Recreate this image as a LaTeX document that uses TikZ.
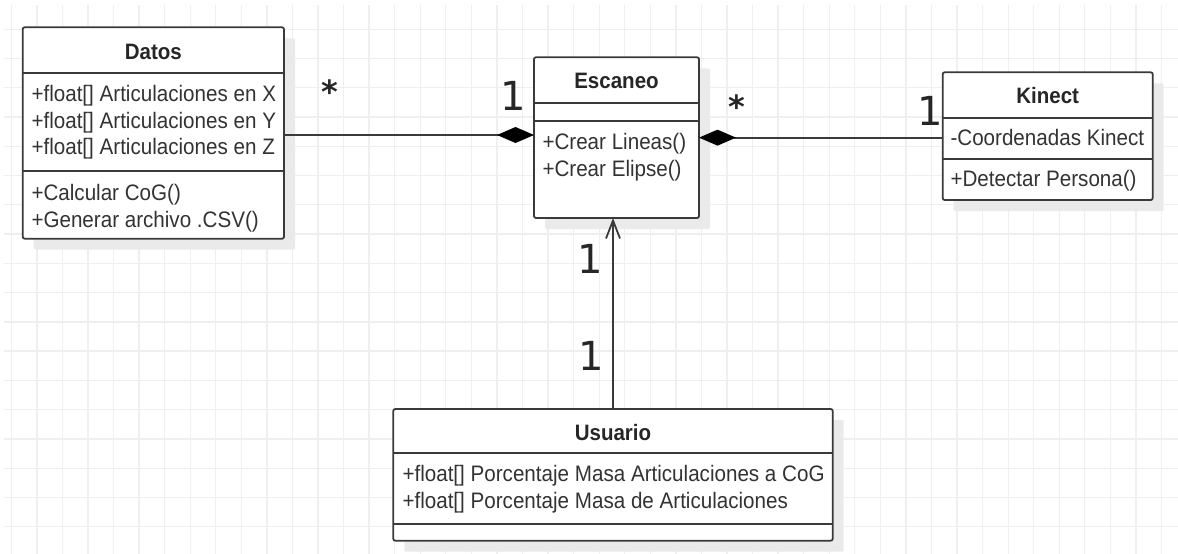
\documentclass[tikz,border=0pt]{standalone}
\usepackage{fontspec}
\setmainfont[FakeStretch=0.92]{Liberation Sans}
\newfontfamily\multfont{DejaVu Sans}
\usetikzlibrary{arrows.meta,shadows}
\definecolor{ink}{HTML}{333333}
\definecolor{edge}{HTML}{3A3A3A}
\definecolor{gridc}{HTML}{EFEFEF}
\definecolor{shade}{HTML}{EAEAEA}

\begin{document}
\begin{tikzpicture}[x=1pt,y=-1pt,
  every node/.style={inner sep=0pt, outer sep=0pt},
  classbox/.style={draw=edge, line width=1.8pt, fill=white, rounded corners=2pt,
    anchor=north west,
    drop shadow={shadow xshift=11pt, shadow yshift=-11pt, fill=shade, opacity=1}},
  sepline/.style={draw=edge, line width=1.8pt},
  title/.style={font=\fontsize{22.3}{26}\selectfont\bfseries, text=black!85, anchor=base},
  member/.style={font=\fontsize{22.4}{26}\selectfont, text=ink, anchor=base west},
  mult/.style={font=\multfont\fontsize{40}{48}\selectfont, text=black!85, anchor=base},
  star/.style={font=\multfont\bfseries\fontsize{32}{40}\selectfont, text=black!85, anchor=center},
  comp/.style={draw=edge, line width=1.8pt, {Diamond[length=37pt,width=16pt,color=black,fill=black]}-},
  nav/.style={draw=edge, line width=1.8pt, -{Straight Barb[length=18pt,width=14pt]}},
  gridline/.style={draw=gridc, line width=1.3pt}
]
% canvas and background grid
\fill[white] (0,0) rectangle (1178,554);
\useasboundingbox (0,0) rectangle (1178,554);
\foreach \i in {0,...,45} \draw[gridline] ({11.3+25.56*\i},5) -- ({11.3+25.56*\i},554);
\foreach \j in {1,...,18} \draw[gridline] (4,{29.26*\j}) -- (1178,{29.26*\j});

% class Datos
\node[classbox, minimum width=261.3pt, minimum height=211.4pt] (datos) at (22.7,27.3) {};
\draw[sepline] (22.7,72.7) -- (284,72.7);
\draw[sepline] (22.7,170.7) -- (284,170.7);
\node[title] (datosT) at (153.3,59) {Datos};
\node[member] (datosA1) at (31.5,101.7) {+float[] Articulaciones en X};
\node[member] (datosA2) at (31.5,128.3) {+float[] Articulaciones en Y};
\node[member] (datosA3) at (31.5,154.6) {+float[] Articulaciones en Z};
\node[member] (datosM1) at (31.5,200) {+Calcular CoG()};
\node[member] (datosM2) at (31.5,227.3) {+Generar archivo .CSV()};

% class Escaneo
\node[classbox, minimum width=165pt, minimum height=160.7pt] (escaneo) at (534,57.3) {};
\draw[sepline] (534,102.7) -- (699,102.7);
\draw[sepline] (534,121) -- (699,121);
\node[title] (escaneoT) at (616.5,88.3) {Escaneo};
\node[member] (escaneoM1) at (542.5,149.3) {+Crear Lineas()};
\node[member] (escaneoM2) at (542.5,176.7) {+Crear Elipse()};

% class Kinect
\node[classbox, minimum width=210pt, minimum height=127.7pt] (kinect) at (942.7,72.3) {};
\draw[sepline] (942.7,117.7) -- (1152.7,117.7);
\draw[sepline] (942.7,159.3) -- (1152.7,159.3);
\node[title] (kinectT) at (1047.7,103.3) {Kinect};
\node[member] (kinectA1) at (950.5,145) {-Coordenadas Kinect};
\node[member] (kinectM1) at (950.5,186.7) {+Detectar Persona()};

% class Usuario
\node[classbox, minimum width=439.4pt, minimum height=131.7pt] (usuario) at (393.3,409) {};
\draw[sepline] (393.3,453.3) -- (832.7,453.3);
\draw[sepline] (393.3,524.3) -- (832.7,524.3);
\node[title] (usuarioT) at (613,440) {Usuario};
\node[member] (usuarioA1) at (402.5,481.7) {+float[] Porcentaje Masa Articulaciones a CoG};
\node[member] (usuarioA2) at (402.5,508.3) {+float[] Porcentaje Masa de Articulaciones};

% associations
\draw[comp] ([yshift=-2pt]datos.east -| escaneo.west) -- ([yshift=-2pt]datos.east);
\draw[comp] (escaneo.east) -- (escaneo.east -| kinect.west);
\draw[nav] (usuario.north) -- (usuario.north |- escaneo.south);

% multiplicities
\node[star] (m1) at (329.5,91.5) {*};
\node[mult] (m2) at (513,110.7) {1};
\node[star] (m3) at (736.7,106.5) {*};
\node[mult] (m4) at (930,125) {1};
\node[mult] (m5) at (590,273.3) {1};
\node[mult] (m6) at (591.7,370.7) {1};
\end{tikzpicture}
\end{document}
